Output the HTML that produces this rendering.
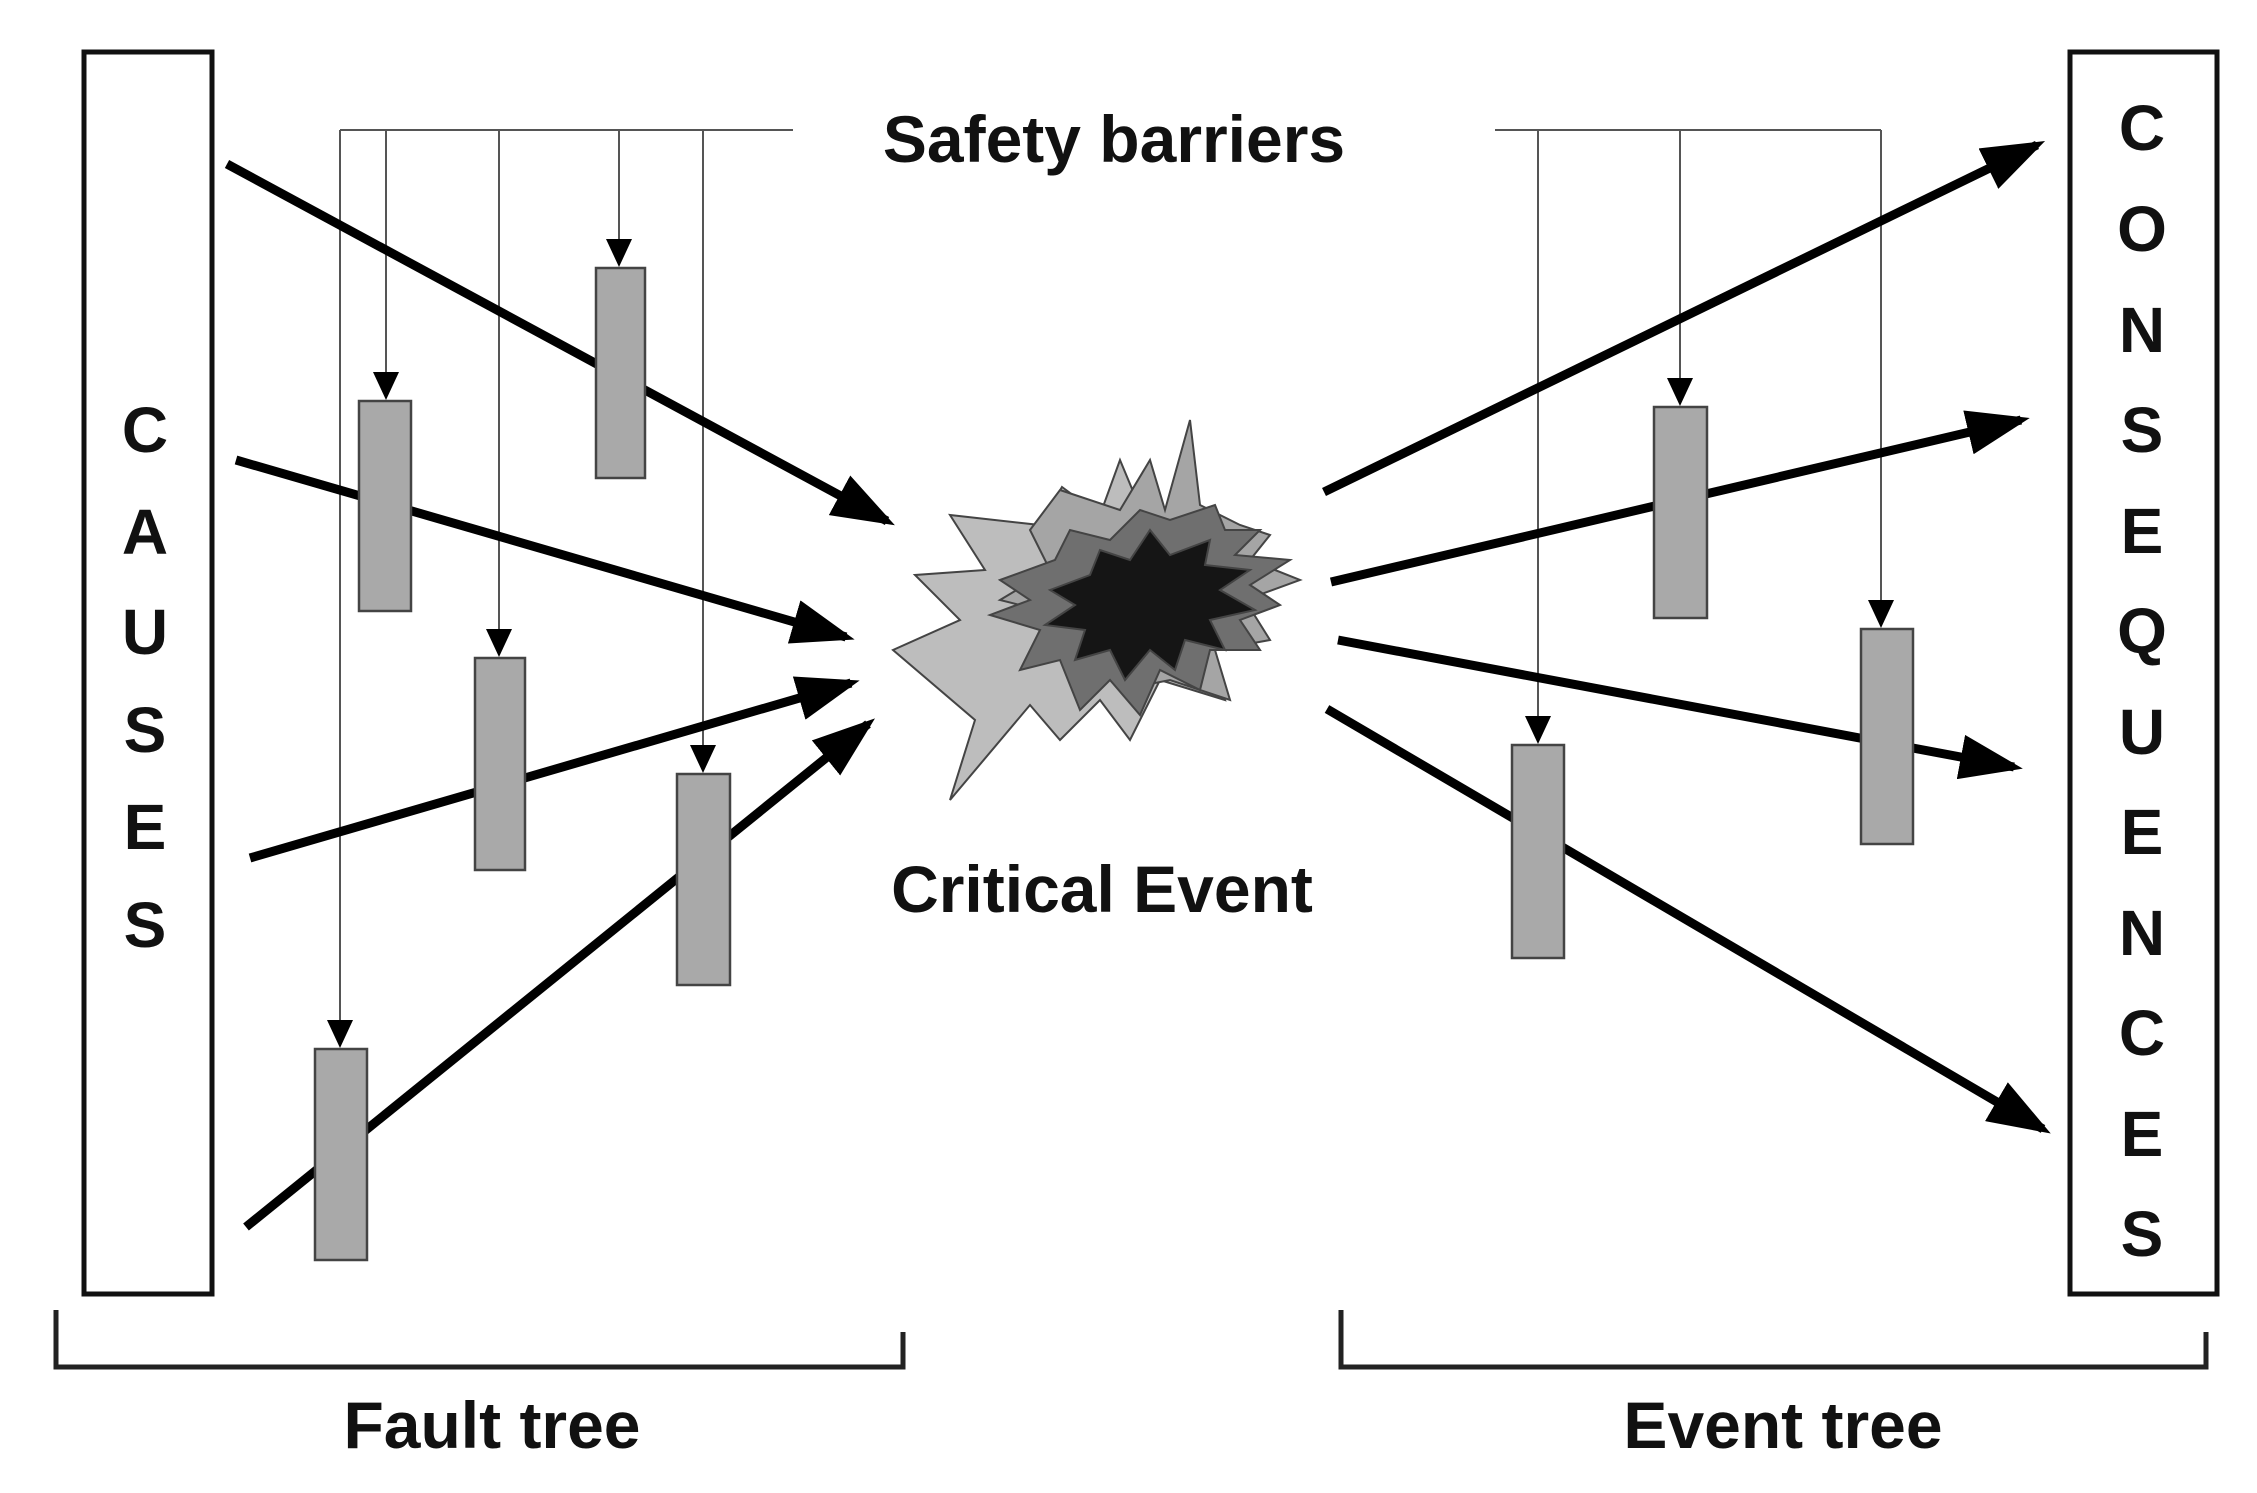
<!DOCTYPE html>
<html><head><meta charset="utf-8"><style>
html,body{margin:0;padding:0;background:#fff}
svg{display:block}
text{font-family:"Liberation Sans",sans-serif;font-weight:bold;fill:#111}
</style></head><body>
<svg width="2257" height="1493" viewBox="0 0 2257 1493" xmlns="http://www.w3.org/2000/svg">
<defs>
<marker id="ah" markerWidth="7" markerHeight="5" refX="6" refY="2.5" orient="auto" markerUnits="strokeWidth">
<path d="M0,0 L7,2.5 L0,5 Z" fill="#000"/></marker>
<marker id="sa" markerWidth="14" markerHeight="13" refX="13" refY="6.5" orient="auto" markerUnits="strokeWidth">
<path d="M0,0 L14,6.5 L0,13 Z" fill="#000"/></marker>
</defs>
<rect x="84" y="52" width="128" height="1242" fill="#fff" stroke="#111" stroke-width="5"/>
<rect x="2070" y="52" width="147" height="1242" fill="#fff" stroke="#111" stroke-width="5"/>
<g font-size="64" text-anchor="middle">
<text x="145" y="452">C</text><text x="145" y="554">A</text><text x="145" y="654">U</text>
<text x="145" y="752">S</text><text x="145" y="849">E</text><text x="145" y="947">S</text>
</g>
<g font-size="64" text-anchor="middle">
<text x="2142" y="150">C</text><text x="2142" y="251">O</text><text x="2142" y="352">N</text>
<text x="2142" y="452">S</text><text x="2142" y="553">E</text><text x="2142" y="653">Q</text>
<text x="2142" y="754">U</text><text x="2142" y="854">E</text><text x="2142" y="955">N</text>
<text x="2142" y="1055">C</text><text x="2142" y="1156">E</text><text x="2142" y="1256">S</text>
</g>
<g stroke="#555" stroke-width="2" fill="none">
<path d="M340,130 H793"/><path d="M1495,130 H1881"/>
<path d="M340,130 V1046" marker-end="url(#sa)"/>
<path d="M386,130 V398" marker-end="url(#sa)"/>
<path d="M499,130 V655" marker-end="url(#sa)"/>
<path d="M619,130 V265" marker-end="url(#sa)"/>
<path d="M703,130 V771" marker-end="url(#sa)"/>
<path d="M1538,130 V742" marker-end="url(#sa)"/>
<path d="M1680,130 V404" marker-end="url(#sa)"/>
<path d="M1881,130 V626" marker-end="url(#sa)"/>
</g>
<g stroke="#000" stroke-width="9" fill="none">
<path d="M227,164 L887,521" marker-end="url(#ah)"/>
<path d="M236,460 L846,637" marker-end="url(#ah)"/>
<path d="M250,858 L851,683" marker-end="url(#ah)"/>
<path d="M246,1227 L868,724" marker-end="url(#ah)"/>
<path d="M1324,492 L2037,145" marker-end="url(#ah)"/>
<path d="M1331,582 L2021,420" marker-end="url(#ah)"/>
<path d="M1338,640 L2014,767" marker-end="url(#ah)"/>
<path d="M1327,709 L2043,1129" marker-end="url(#ah)"/>
</g>
<g fill="#a9a9a9" stroke="#444" stroke-width="2.5">
<rect x="596" y="268" width="49" height="210"/>
<rect x="359" y="401" width="52" height="210"/>
<rect x="475" y="658" width="50" height="212"/>
<rect x="677" y="774" width="53" height="211"/>
<rect x="315" y="1049" width="52" height="211"/>
<rect x="1654" y="407" width="53" height="211"/>
<rect x="1861" y="629" width="52" height="215"/>
<rect x="1512" y="745" width="52" height="213"/>
</g>
<g stroke="#444" stroke-width="2">
<polygon fill="#bdbdbd" points="1062,487 1100,515 1120,460 1145,520 1185,500 1200,530 1260,530 1235,560 1280,575 1230,600 1260,640 1205,650 1225,700 1160,680 1130,740 1100,700 1060,740 1030,705 950,800 975,720 893,650 960,620 915,575 985,570 950,515 1040,525"/>
<polygon fill="#a5a5a5" points="1060,490 1120,510 1150,460 1165,510 1190,420 1200,505 1240,525 1270,535 1250,560 1300,580 1245,600 1270,640 1215,650 1230,700 1170,680 1120,690 1080,650 1040,610 1000,600 1050,570 1030,530"/>
<polygon fill="#6f6f6f" points="1000,580 1055,560 1070,530 1110,540 1140,510 1170,520 1215,505 1225,530 1260,530 1235,555 1290,560 1250,585 1280,605 1240,620 1260,650 1210,650 1200,690 1160,670 1140,715 1110,680 1080,710 1060,660 1020,670 1040,630 990,615 1030,600"/>
<polygon fill="#151515" points="1050,590 1090,575 1100,550 1130,560 1150,530 1170,555 1210,540 1205,565 1250,570 1220,590 1255,610 1210,620 1225,650 1185,640 1175,670 1150,650 1125,680 1110,650 1075,660 1085,630 1045,625 1075,605"/>
</g>
<g font-size="66" text-anchor="middle">
<text x="1114" y="162">Safety barriers</text>
<text x="1102" y="912">Critical Event</text>
<text x="492" y="1448">Fault tree</text>
<text x="1783" y="1448">Event tree</text>
</g>
<g stroke="#222" stroke-width="5" fill="none">
<path d="M56,1310 V1367 H903 V1332"/>
<path d="M1341,1310 V1367 H2206 V1332"/>
</g>
</svg>
</body></html>
